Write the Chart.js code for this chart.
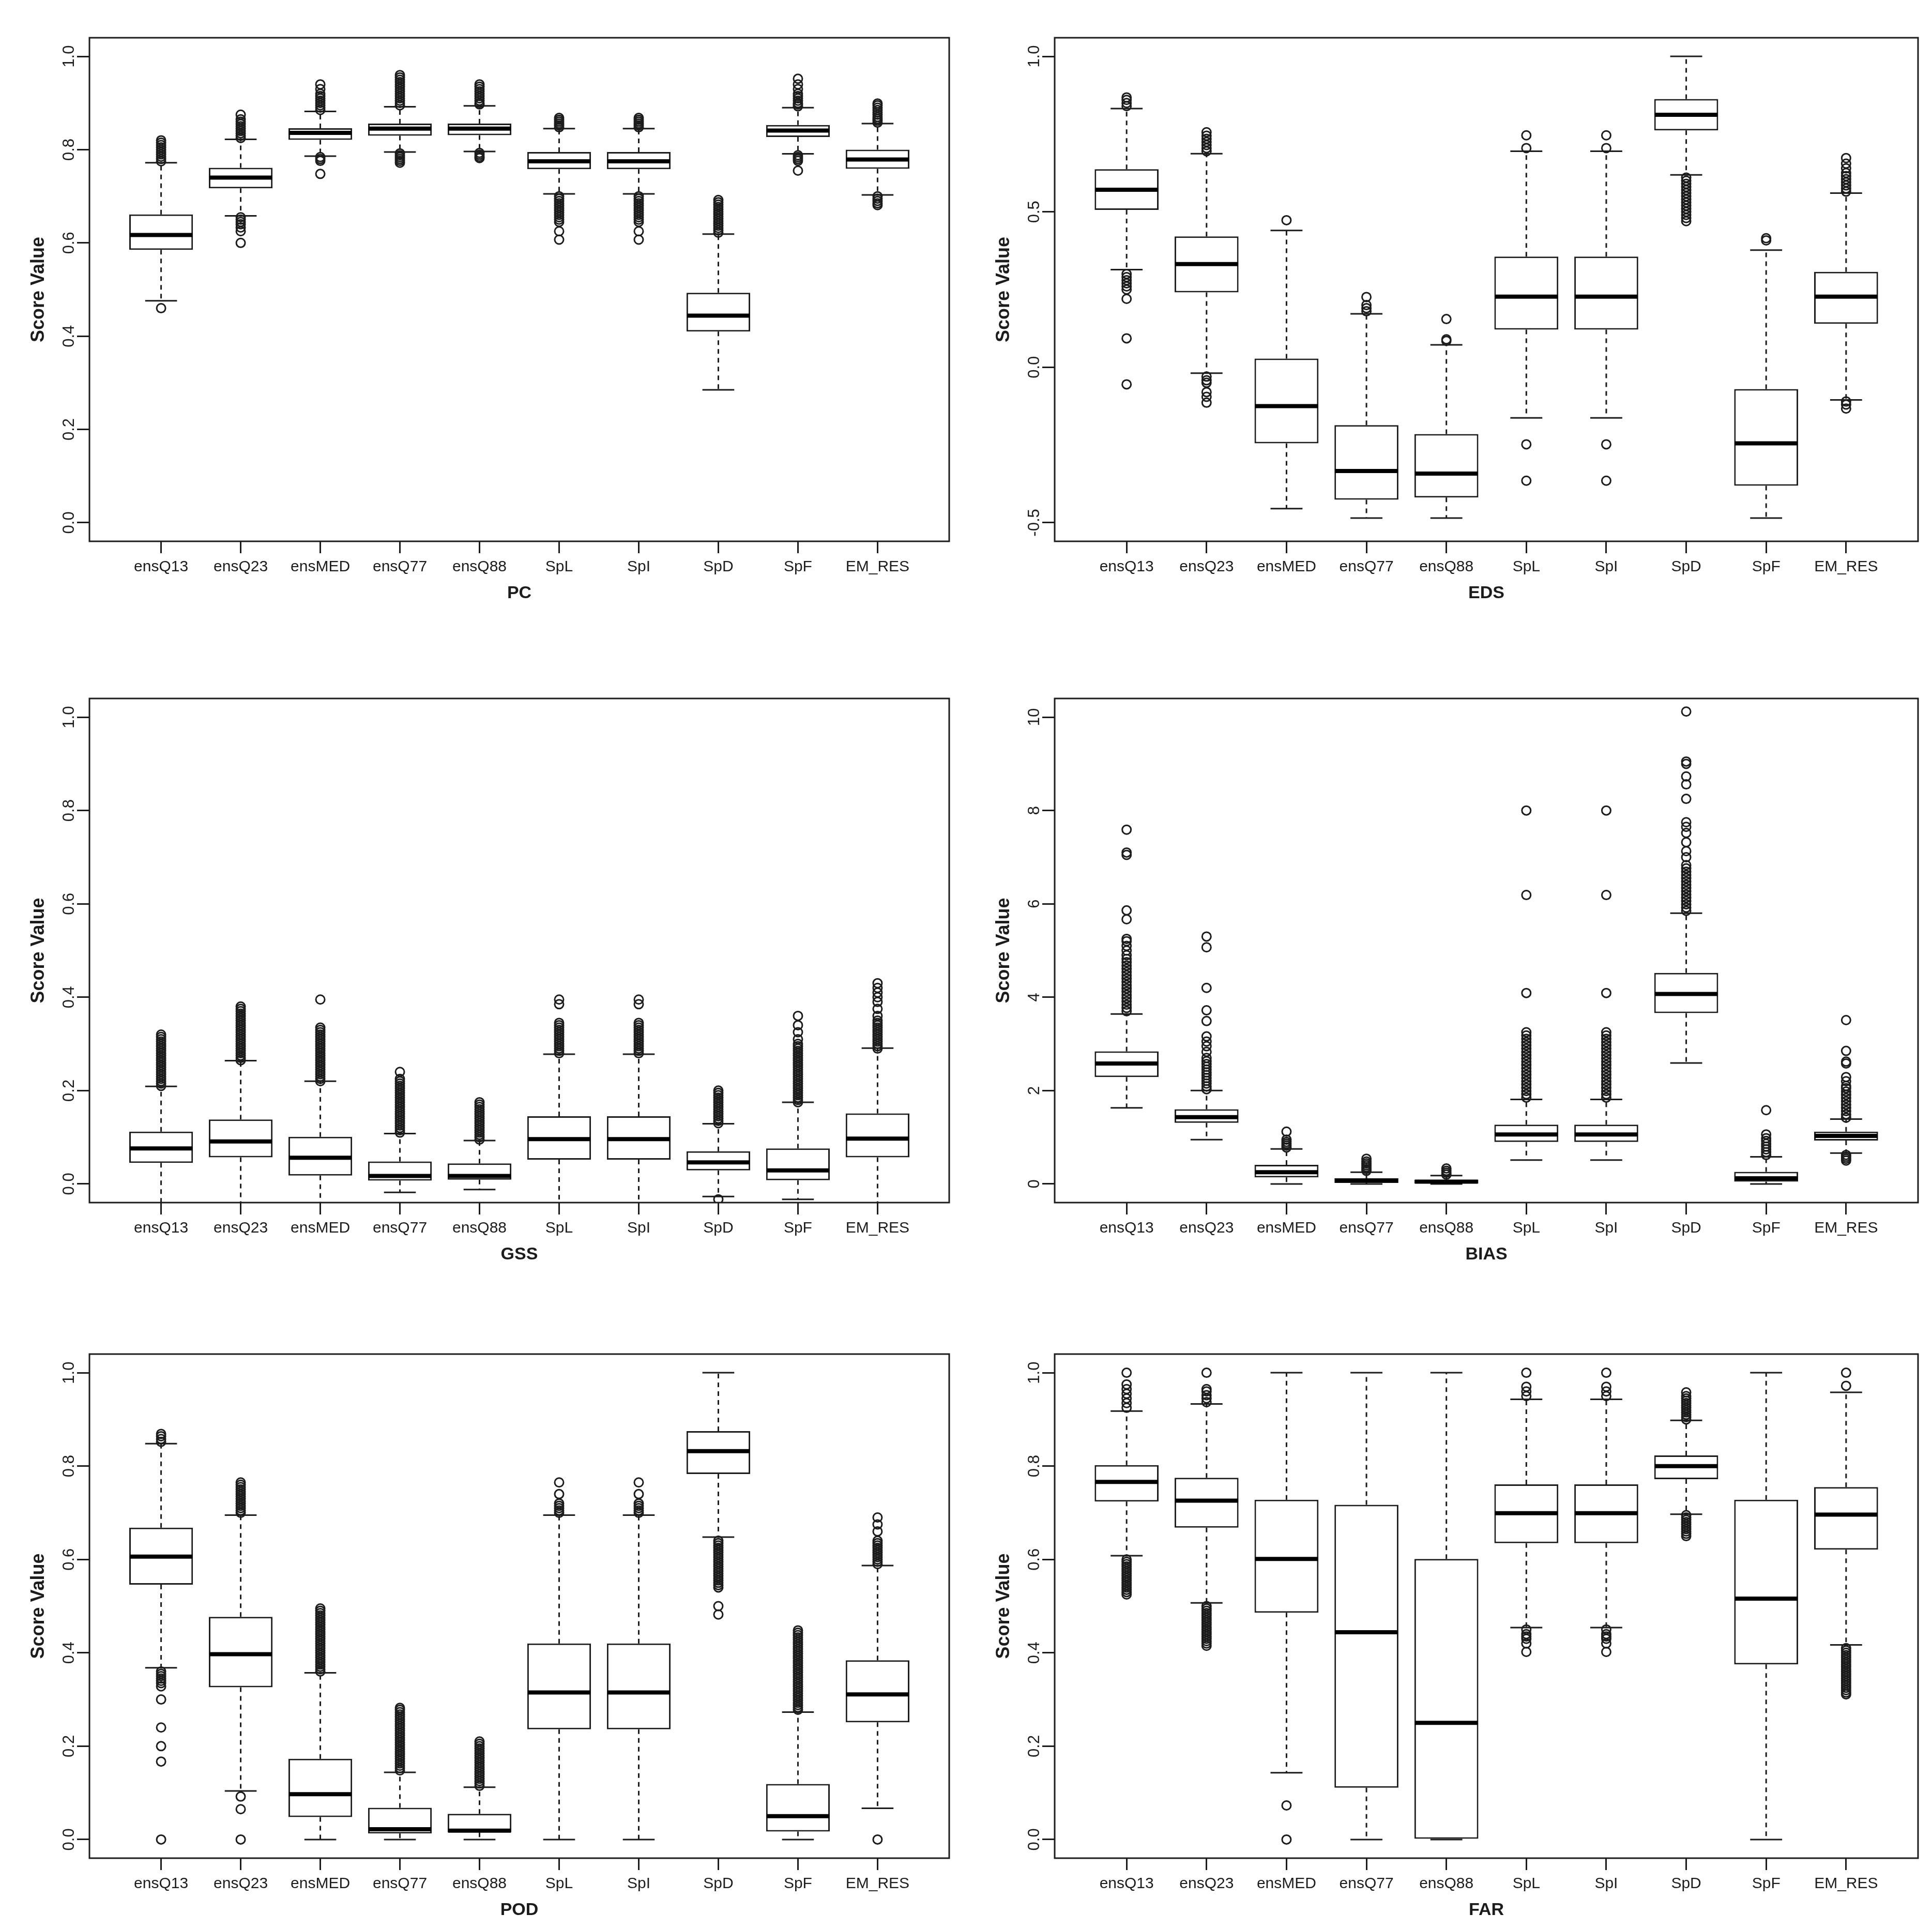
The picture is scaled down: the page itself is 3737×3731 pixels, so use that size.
<!DOCTYPE html>
<html>
<head>
<meta charset="utf-8">
<script src="https://cdn.jsdelivr.net/npm/chart.js@4.4.1/dist/chart.umd.min.js"></script>
<style>
html, body { margin: 0; padding: 0; background: #fff; }
#page { position: relative; width: 3737px; height: 3731px; background: #fff; overflow: hidden; }
#page canvas { position: absolute; }
</style>
</head>
<body>
<div id="page"></div>
<script>
// categories on every x axis
const categories = ['ensQ13', 'ensQ23', 'ensMED', 'ensQ77', 'ensQ88', 'SpL', 'SpI', 'SpD', 'SpF', 'EM_RES'];

// y tick values / labels
const unitTicks = [0, 0.2, 0.4, 0.6, 0.8, 1.0];
const unitTickLabels = ['0.0', '0.2', '0.4', '0.6', '0.8', '1.0'];
const edsTicks = [-0.5, 0, 0.5, 1.0];
const edsTickLabels = ['-0.5', '0.0', '0.5', '1.0'];
const biasTicks = [0, 2, 4, 6, 8, 10];
const biasTickLabels = ['0', '2', '4', '6', '8', '10'];

// PC
const pcLow  = [0.476, 0.658, 0.786, 0.795, 0.796, 0.705, 0.705, 0.285, 0.791, 0.703];
const pcQ1   = [0.585, 0.717, 0.821, 0.830, 0.831, 0.758, 0.758, 0.410, 0.827, 0.759];
const pcMed  = [0.617, 0.740, 0.836, 0.845, 0.845, 0.775, 0.775, 0.444, 0.841, 0.779];
const pcQ3   = [0.661, 0.761, 0.846, 0.856, 0.856, 0.795, 0.795, 0.493, 0.853, 0.800];
const pcHigh = [0.772, 0.822, 0.882, 0.892, 0.894, 0.845, 0.845, 0.619, 0.890, 0.856];
const pcOut = [
  [0.775, 0.78, 0.785, 0.79, 0.795, 0.8, 0.805, 0.81, 0.815, 0.82, 0.46],
  [0.825, 0.83, 0.835, 0.84, 0.845, 0.85, 0.855, 0.86, 0.865, 0.875, 0.655, 0.65, 0.645, 0.64, 0.633, 0.625, 0.6],
  [0.885, 0.89, 0.895, 0.9, 0.905, 0.91, 0.915, 0.92, 0.93, 0.94, 0.784, 0.78, 0.776, 0.748],
  [0.895, 0.9, 0.905, 0.91, 0.915, 0.92, 0.925, 0.93, 0.935, 0.94, 0.945, 0.95, 0.955, 0.96, 0.792, 0.788, 0.784, 0.78, 0.776, 0.772],
  [0.897, 0.9, 0.905, 0.91, 0.915, 0.92, 0.925, 0.93, 0.935, 0.94, 0.793, 0.789, 0.785, 0.782],
  [0.848, 0.852, 0.856, 0.86, 0.864, 0.868, 0.7, 0.695, 0.69, 0.685, 0.68, 0.675, 0.67, 0.665, 0.66, 0.655, 0.65, 0.645, 0.625, 0.607],
  [0.848, 0.852, 0.856, 0.86, 0.864, 0.868, 0.7, 0.695, 0.69, 0.685, 0.68, 0.675, 0.67, 0.665, 0.66, 0.655, 0.65, 0.645, 0.625, 0.607],
  [0.622, 0.627, 0.632, 0.637, 0.642, 0.647, 0.652, 0.657, 0.662, 0.667, 0.672, 0.677, 0.682, 0.687, 0.692],
  [0.893, 0.897, 0.9, 0.905, 0.91, 0.915, 0.92, 0.93, 0.94, 0.952, 0.788, 0.784, 0.78, 0.776, 0.755],
  [0.858, 0.862, 0.866, 0.87, 0.875, 0.88, 0.885, 0.89, 0.895, 0.899, 0.7, 0.695, 0.69, 0.685, 0.681]
];

// EDS
const edsLow  = [0.314, -0.019, -0.455, -0.485, -0.485, -0.163, -0.163, 0.619, -0.485, -0.105];
const edsQ1   = [0.506, 0.241, -0.245, -0.426, -0.419, 0.121, 0.121, 0.762, -0.381, 0.140];
const edsMed  = [0.571, 0.332, -0.125, -0.334, -0.342, 0.227, 0.227, 0.812, -0.245, 0.227];
const edsQ3   = [0.637, 0.421, 0.028, -0.186, -0.215, 0.356, 0.356, 0.863, -0.070, 0.307];
const edsHigh = [0.832, 0.687, 0.440, 0.172, 0.072, 0.695, 0.695, 1.0, 0.377, 0.560];
const edsOut = [
  [0.84, 0.85, 0.86, 0.868, 0.3, 0.29, 0.28, 0.27, 0.26, 0.25, 0.22, 0.093, -0.055],
  [0.695, 0.705, 0.715, 0.725, 0.735, 0.745, 0.756, -0.03, -0.042, -0.05, -0.08, -0.095, -0.114],
  [0.473],
  [0.18, 0.19, 0.2, 0.226],
  [0.085, 0.09, 0.155],
  [0.705, 0.746, -0.248, -0.365],
  [0.705, 0.746, -0.248, -0.365],
  [0.61, 0.6, 0.59, 0.58, 0.57, 0.56, 0.55, 0.54, 0.53, 0.52, 0.51, 0.5, 0.49, 0.48, 0.47],
  [0.408, 0.415],
  [0.565, 0.575, 0.585, 0.595, 0.605, 0.615, 0.625, 0.64, 0.655, 0.673, -0.11, -0.12, -0.133]
];

// GSS
const gssLow  = [-0.06, -0.06, -0.06, -0.018, -0.012, -0.06, -0.06, -0.027, -0.033, -0.06];
const gssQ1   = [0.045, 0.057, 0.018, 0.007, 0.009, 0.052, 0.052, 0.029, 0.008, 0.057];
const gssMed  = [0.076, 0.091, 0.056, 0.017, 0.017, 0.096, 0.096, 0.046, 0.029, 0.097];
const gssQ3   = [0.112, 0.138, 0.101, 0.048, 0.044, 0.145, 0.145, 0.070, 0.076, 0.151];
const gssHigh = [0.209, 0.264, 0.220, 0.108, 0.093, 0.278, 0.278, 0.129, 0.175, 0.291];
const gssOut = [
  [0.21, 0.215, 0.22, 0.225, 0.23, 0.235, 0.24, 0.245, 0.25, 0.255, 0.26, 0.265, 0.27, 0.275, 0.28, 0.285, 0.29, 0.295, 0.3, 0.305, 0.31, 0.315, 0.32],
  [0.265, 0.27, 0.275, 0.28, 0.285, 0.29, 0.295, 0.3, 0.305, 0.31, 0.315, 0.32, 0.325, 0.33, 0.335, 0.34, 0.345, 0.35, 0.355, 0.36, 0.365, 0.37, 0.375, 0.38],
  [0.22, 0.225, 0.23, 0.235, 0.24, 0.245, 0.25, 0.255, 0.26, 0.265, 0.27, 0.275, 0.28, 0.285, 0.29, 0.295, 0.3, 0.305, 0.31, 0.315, 0.32, 0.325, 0.33, 0.335, 0.395],
  [0.11, 0.115, 0.12, 0.125, 0.13, 0.135, 0.14, 0.145, 0.15, 0.155, 0.16, 0.165, 0.17, 0.175, 0.18, 0.185, 0.19, 0.195, 0.2, 0.205, 0.21, 0.215, 0.22, 0.225, 0.24],
  [0.095, 0.1, 0.105, 0.11, 0.115, 0.12, 0.125, 0.13, 0.135, 0.14, 0.145, 0.15, 0.155, 0.16, 0.165, 0.17, 0.175],
  [0.28, 0.285, 0.29, 0.295, 0.3, 0.305, 0.31, 0.315, 0.32, 0.325, 0.33, 0.335, 0.34, 0.345, 0.385, 0.395],
  [0.28, 0.285, 0.29, 0.295, 0.3, 0.305, 0.31, 0.315, 0.32, 0.325, 0.33, 0.335, 0.34, 0.345, 0.385, 0.395],
  [0.13, 0.135, 0.14, 0.145, 0.15, 0.155, 0.16, 0.165, 0.17, 0.175, 0.18, 0.185, 0.19, 0.195, 0.2, -0.033],
  [0.175, 0.18, 0.185, 0.19, 0.195, 0.2, 0.205, 0.21, 0.215, 0.22, 0.225, 0.23, 0.235, 0.24, 0.245, 0.25, 0.255, 0.26, 0.265, 0.27, 0.275, 0.28, 0.285, 0.29, 0.295, 0.3, 0.31, 0.325, 0.34, 0.36],
  [0.29, 0.295, 0.3, 0.305, 0.31, 0.315, 0.32, 0.325, 0.33, 0.335, 0.34, 0.345, 0.35, 0.36, 0.375, 0.39, 0.4, 0.41, 0.42, 0.43]
];

// BIAS
const biasLow  = [1.63, 0.95, 0, 0, 0, 0.51, 0.51, 2.59, 0, 0.66];
const biasQ1   = [2.29, 1.31, 0.14, 0.02, 0.01, 0.90, 0.90, 3.66, 0.05, 0.93];
const biasMed  = [2.58, 1.43, 0.25, 0.07, 0.05, 1.06, 1.06, 4.07, 0.12, 1.03];
const biasQ3   = [2.84, 1.60, 0.41, 0.12, 0.09, 1.27, 1.27, 4.52, 0.26, 1.12];
const biasHigh = [3.64, 2.0, 0.75, 0.25, 0.18, 1.81, 1.81, 5.80, 0.58, 1.39];
const biasOut = [
  [3.7, 3.77, 3.84, 3.91, 3.98, 4.05, 4.12, 4.19, 4.26, 4.33, 4.4, 4.47, 4.54, 4.61, 4.68, 4.75, 4.82, 4.9, 5.0, 5.1, 5.2, 5.25, 5.67, 5.86, 7.05, 7.1, 7.59],
  [2.03, 2.09, 2.15, 2.21, 2.27, 2.33, 2.39, 2.45, 2.51, 2.57, 2.63, 2.7, 2.83, 2.95, 3.05, 3.16, 3.49, 3.72, 4.2, 5.07, 5.3],
  [0.78, 0.82, 0.86, 0.9, 0.95, 1.12],
  [0.28, 0.32, 0.36, 0.4, 0.44, 0.48, 0.54],
  [0.2, 0.24, 0.28, 0.33],
  [1.85, 1.92, 1.99, 2.06, 2.13, 2.2, 2.27, 2.34, 2.41, 2.48, 2.55, 2.62, 2.69, 2.76, 2.83, 2.9, 2.97, 3.04, 3.11, 3.18, 3.25, 4.09, 6.19, 8.0],
  [1.85, 1.92, 1.99, 2.06, 2.13, 2.2, 2.27, 2.34, 2.41, 2.48, 2.55, 2.62, 2.69, 2.76, 2.83, 2.9, 2.97, 3.04, 3.11, 3.18, 3.25, 4.09, 6.19, 8.0],
  [5.85, 5.92, 5.99, 6.06, 6.13, 6.2, 6.27, 6.34, 6.41, 6.48, 6.55, 6.62, 6.69, 6.76, 6.83, 7.0, 7.13, 7.32, 7.52, 7.65, 7.75, 8.25, 8.56, 8.73, 9.0, 9.05, 10.12],
  [0.62, 0.68, 0.74, 0.8, 0.86, 0.92, 0.98, 1.06, 1.58],
  [1.42, 1.49, 1.56, 1.63, 1.7, 1.77, 1.84, 1.91, 1.98, 2.05, 2.1, 2.2, 2.29, 2.58, 2.62, 2.85, 3.51, 0.62, 0.58, 0.54, 0.5]
];

// POD
const podLow  = [0.368, 0.104, 0, 0, 0, 0, 0, 0.648, 0, 0.067];
const podQ1   = [0.546, 0.326, 0.048, 0.013, 0.015, 0.236, 0.236, 0.783, 0.017, 0.251];
const podMed  = [0.606, 0.397, 0.097, 0.022, 0.019, 0.315, 0.315, 0.832, 0.050, 0.311];
const podQ3   = [0.668, 0.477, 0.173, 0.068, 0.055, 0.420, 0.420, 0.875, 0.119, 0.384];
const podHigh = [0.848, 0.695, 0.357, 0.144, 0.112, 0.695, 0.695, 1.0, 0.273, 0.587];
const podOut = [
  [0.852, 0.858, 0.864, 0.869, 0.36, 0.355, 0.35, 0.345, 0.34, 0.335, 0.328, 0.3, 0.24, 0.2, 0.167, 0.0],
  [0.7, 0.705, 0.71, 0.715, 0.72, 0.725, 0.73, 0.735, 0.74, 0.745, 0.75, 0.755, 0.76, 0.765, 0.092, 0.065, 0.0],
  [0.36, 0.365, 0.37, 0.375, 0.38, 0.385, 0.39, 0.395, 0.4, 0.405, 0.41, 0.415, 0.42, 0.425, 0.43, 0.435, 0.44, 0.445, 0.45, 0.455, 0.46, 0.465, 0.47, 0.475, 0.48, 0.485, 0.49, 0.495],
  [0.148, 0.153, 0.158, 0.163, 0.168, 0.173, 0.178, 0.183, 0.188, 0.193, 0.198, 0.203, 0.208, 0.213, 0.218, 0.223, 0.228, 0.233, 0.238, 0.243, 0.248, 0.253, 0.258, 0.263, 0.268, 0.273, 0.278, 0.282],
  [0.115, 0.12, 0.125, 0.13, 0.135, 0.14, 0.145, 0.15, 0.155, 0.16, 0.165, 0.17, 0.175, 0.18, 0.185, 0.19, 0.195, 0.2, 0.205, 0.21],
  [0.7, 0.705, 0.71, 0.715, 0.72, 0.74, 0.765],
  [0.7, 0.705, 0.71, 0.715, 0.72, 0.74, 0.765],
  [0.64, 0.635, 0.63, 0.625, 0.62, 0.615, 0.61, 0.605, 0.6, 0.595, 0.59, 0.585, 0.58, 0.575, 0.57, 0.565, 0.56, 0.555, 0.55, 0.545, 0.54, 0.5, 0.482],
  [0.278, 0.283, 0.288, 0.293, 0.298, 0.303, 0.308, 0.313, 0.318, 0.323, 0.328, 0.333, 0.338, 0.343, 0.348, 0.353, 0.358, 0.363, 0.368, 0.373, 0.378, 0.383, 0.388, 0.393, 0.398, 0.403, 0.408, 0.413, 0.418, 0.423, 0.428, 0.433, 0.438, 0.443, 0.448],
  [0.59, 0.595, 0.6, 0.605, 0.61, 0.615, 0.62, 0.625, 0.63, 0.635, 0.64, 0.66, 0.675, 0.69, 0.0]
];

// FAR
const farLow  = [0.608, 0.507, 0.143, 0, 0, 0.454, 0.454, 0.697, 0, 0.417];
const farQ1   = [0.724, 0.668, 0.486, 0.111, 0, 0.635, 0.635, 0.772, 0.375, 0.621];
const farMed  = [0.766, 0.726, 0.601, 0.444, 0.25, 0.699, 0.699, 0.800, 0.516, 0.696];
const farQ3   = [0.802, 0.775, 0.728, 0.717, 0.601, 0.761, 0.761, 0.823, 0.728, 0.755];
const farHigh = [0.918, 0.933, 1.0, 1.0, 1.0, 0.943, 0.943, 0.898, 1.0, 0.958];
const farOut = [
  [0.925, 0.935, 0.945, 0.955, 0.965, 0.975, 1.0, 0.6, 0.595, 0.59, 0.585, 0.58, 0.575, 0.57, 0.565, 0.56, 0.555, 0.55, 0.545, 0.54, 0.535, 0.53, 0.525],
  [0.937, 0.945, 0.952, 0.96, 0.965, 1.0, 0.5, 0.495, 0.49, 0.485, 0.48, 0.475, 0.47, 0.465, 0.46, 0.455, 0.45, 0.445, 0.44, 0.435, 0.43, 0.425, 0.42, 0.415],
  [0.073, 0.0],
  [],
  [],
  [0.95, 0.96, 0.97, 1.0, 0.45, 0.44, 0.435, 0.43, 0.42, 0.402],
  [0.95, 0.96, 0.97, 1.0, 0.45, 0.44, 0.435, 0.43, 0.42, 0.402],
  [0.9, 0.905, 0.91, 0.915, 0.92, 0.925, 0.93, 0.935, 0.94, 0.945, 0.95, 0.958, 0.695, 0.69, 0.685, 0.68, 0.675, 0.67, 0.665, 0.66, 0.655, 0.65],
  [],
  [0.972, 1.0, 0.41, 0.405, 0.4, 0.395, 0.39, 0.385, 0.38, 0.375, 0.37, 0.365, 0.36, 0.355, 0.35, 0.345, 0.34, 0.335, 0.33, 0.325, 0.32, 0.315, 0.311]
];

const ink = '#1c1c1c';
const family = '"Liberation Sans", Arial, Helvetica, sans-serif';

// room around each plot box
const AXIS_W = 173, PAD_TOP = 73, AXIS_H = 150, PAD_RIGHT = 15;

const panels = [
  {name: 'PC',   left: 173,  top: 73,   width: 1663, height: 974, min: -0.04, max: 1.04, ticks: unitTicks, labels: unitTickLabels, low: pcLow,   q1: pcQ1,   med: pcMed,   q3: pcQ3,   high: pcHigh,   out: pcOut},
  {name: 'EDS',  left: 2040, top: 73,   width: 1670, height: 974, min: -0.56, max: 1.06, ticks: edsTicks,  labels: edsTickLabels,  low: edsLow,  q1: edsQ1,  med: edsMed,  q3: edsQ3,  high: edsHigh,  out: edsOut},
  {name: 'GSS',  left: 173,  top: 1351, width: 1663, height: 975, min: -0.04, max: 1.04, ticks: unitTicks, labels: unitTickLabels, low: gssLow,  q1: gssQ1,  med: gssMed,  q3: gssQ3,  high: gssHigh,  out: gssOut},
  {name: 'BIAS', left: 2040, top: 1351, width: 1670, height: 975, min: -0.4,  max: 10.4, ticks: biasTicks, labels: biasTickLabels, low: biasLow, q1: biasQ1, med: biasMed, q3: biasQ3, high: biasHigh, out: biasOut},
  {name: 'POD',  left: 173,  top: 2619, width: 1663, height: 975, min: -0.04, max: 1.04, ticks: unitTicks, labels: unitTickLabels, low: podLow,  q1: podQ1,  med: podMed,  q3: podQ3,  high: podHigh,  out: podOut},
  {name: 'FAR',  left: 2040, top: 2619, width: 1670, height: 975, min: -0.04, max: 1.04, ticks: unitTicks, labels: unitTickLabels, low: farLow,  q1: farQ1,  med: farMed,  q3: farQ3,  high: farHigh,  out: farOut}
];

function clipTo(ctx, a) {
  ctx.beginPath();
  ctx.rect(a.left, a.top, a.right - a.left, a.bottom - a.top);
  ctx.clip();
}

// whiskers, medians, frame and rotated labels (R boxplot look)
function makeDecor(p) {
  return {
    id: 'boxDecor',
    beforeDatasetsDraw(chart) {
      const {ctx, chartArea: a, scales: {x, y}} = chart;
      const boxes = chart.getDatasetMeta(0).data;
      ctx.save();
      clipTo(ctx, a);
      ctx.strokeStyle = ink;
      ctx.lineWidth = 3;
      categories.forEach((c, i) => {
        const cx = x.getPixelForValue(i + 1);
        const half = boxes[i].width / 4;
        ctx.setLineDash([9, 8]);
        ctx.beginPath();
        ctx.moveTo(cx, y.getPixelForValue(p.q3[i]));
        ctx.lineTo(cx, y.getPixelForValue(p.high[i]));
        ctx.moveTo(cx, y.getPixelForValue(p.q1[i]));
        ctx.lineTo(cx, y.getPixelForValue(p.low[i]));
        ctx.stroke();
        ctx.setLineDash([]);
        ctx.beginPath();
        [p.high[i], p.low[i]].forEach(v => {
          const yy = y.getPixelForValue(v);
          ctx.moveTo(cx - half, yy);
          ctx.lineTo(cx + half, yy);
        });
        ctx.stroke();
      });
      ctx.restore();
    },
    afterDatasetsDraw(chart) {
      const {ctx, chartArea: a, scales: {x, y}} = chart;
      const boxes = chart.getDatasetMeta(0).data;
      ctx.save();
      clipTo(ctx, a);
      ctx.strokeStyle = '#000';
      ctx.lineWidth = 8;
      categories.forEach((c, i) => {
        const cx = x.getPixelForValue(i + 1);
        const half = boxes[i].width / 2 - 1;
        const yy = y.getPixelForValue(p.med[i]);
        ctx.beginPath();
        ctx.moveTo(cx - half, yy);
        ctx.lineTo(cx + half, yy);
        ctx.stroke();
      });
      ctx.restore();
    },
    afterDraw(chart) {
      const {ctx, chartArea: a, scales: {y}} = chart;
      ctx.save();
      ctx.strokeStyle = ink;
      ctx.lineWidth = 3;
      ctx.strokeRect(a.left, a.top, a.right - a.left, a.bottom - a.top);
      ctx.fillStyle = ink;
      ctx.font = '31px ' + family;
      ctx.textAlign = 'center';
      ctx.textBaseline = 'alphabetic';
      p.ticks.forEach((v, k) => {
        ctx.save();
        ctx.translate(a.left - 30, y.getPixelForValue(v));
        ctx.rotate(-Math.PI / 2);
        ctx.fillText(p.labels[k], 0, 0);
        ctx.restore();
      });
      ctx.font = 'bold 36px ' + family;
      ctx.textBaseline = 'middle';
      ctx.save();
      ctx.translate(a.left - 98, (a.top + a.bottom) / 2);
      ctx.rotate(-Math.PI / 2);
      ctx.fillText('Score Value', 0, 0);
      ctx.restore();
      ctx.font = 'bold 34px ' + family;
      ctx.fillText(p.name, (a.left + a.right) / 2, a.bottom + 101);
      ctx.restore();
    }
  };
}

const page = document.getElementById('page');

panels.forEach(p => {
  const canvas = document.createElement('canvas');
  canvas.width = AXIS_W + p.width + PAD_RIGHT;
  canvas.height = PAD_TOP + p.height + AXIS_H;
  canvas.style.left = (p.left - AXIS_W) + 'px';
  canvas.style.top = (p.top - PAD_TOP) + 'px';
  page.appendChild(canvas);

  const outliers = [];
  p.out.forEach((list, i) => list.forEach(v => outliers.push({x: i + 1, y: v})));

  new Chart(canvas, {
    type: 'bar',
    data: {
      datasets: [
        {
          type: 'bar',
          data: categories.map((c, i) => ({x: i + 1, y: [p.q1[i], p.q3[i]]})),
          backgroundColor: '#ffffff',
          borderColor: ink,
          borderWidth: 3,
          borderSkipped: false,
          barPercentage: 0.8,
          categoryPercentage: 1,
          order: 1
        },
        {
          type: 'scatter',
          data: outliers,
          pointStyle: 'circle',
          pointRadius: 8.5,
          pointBorderWidth: 3,
          pointBorderColor: ink,
          pointBackgroundColor: 'rgba(0,0,0,0)',
          clip: 0,
          order: 0
        }
      ]
    },
    options: {
      responsive: false,
      devicePixelRatio: 1,
      animation: false,
      events: [],
      layout: {padding: {top: PAD_TOP, right: PAD_RIGHT, left: 0, bottom: 0}},
      plugins: {legend: {display: false}, tooltip: {enabled: false}},
      scales: {
        x: {
          type: 'linear',
          min: 0.1,
          max: 10.9,
          offset: false,
          afterBuildTicks: s => { s.ticks = categories.map((c, i) => ({value: i + 1})); },
          afterFit: s => { s.height = AXIS_H; },
          ticks: {
            autoSkip: false,
            maxRotation: 0,
            minRotation: 0,
            padding: 9,
            color: ink,
            font: {family: family, size: 30},
            callback: v => categories[v - 1]
          },
          grid: {offset: false, drawOnChartArea: false, drawTicks: true, tickLength: 23, color: ink, lineWidth: 3},
          border: {display: false}
        },
        y: {
          type: 'linear',
          min: p.min,
          max: p.max,
          afterBuildTicks: s => { s.ticks = p.ticks.map(v => ({value: v})); },
          afterFit: s => { s.width = AXIS_W; },
          ticks: {display: false},
          grid: {drawOnChartArea: false, drawTicks: true, tickLength: 24, color: ink, lineWidth: 3},
          border: {display: false}
        }
      }
    },
    plugins: [makeDecor(p)]
  });
});
</script>
</body>
</html>
